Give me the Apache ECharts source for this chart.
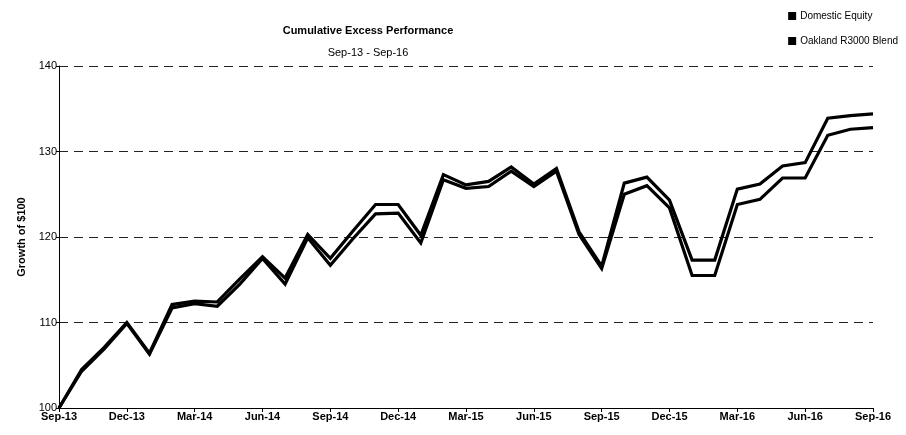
<!DOCTYPE html>
<html>
<head>
<meta charset="utf-8">
<script src="https://cdn.jsdelivr.net/npm/echarts@6/dist/echarts.min.js"></script>
<style>
  html, body { margin: 0; padding: 0; background: #fff; }
  #chart { width: 906px; height: 435px; }
</style>
</head>
<body>
<div id="chart"></div>
<script>
// Month-end observations, Sep-13 through Sep-16
const months = [
  'Sep-13','Oct-13','Nov-13','Dec-13','Jan-14','Feb-14','Mar-14','Apr-14','May-14','Jun-14',
  'Jul-14','Aug-14','Sep-14','Oct-14','Nov-14','Dec-14','Jan-15','Feb-15','Mar-15','Apr-15',
  'May-15','Jun-15','Jul-15','Aug-15','Sep-15','Oct-15','Nov-15','Dec-15','Jan-16','Feb-16',
  'Mar-16','Apr-16','May-16','Jun-16','Jul-16','Aug-16','Sep-16'
];

// Growth of $100
const domesticEquity = [
  100.0, 104.5, 107.1, 110.0, 106.4, 112.1, 112.5, 112.4, 115.1, 117.7,
  115.2, 120.3, 117.5, 120.7, 123.8, 123.8, 120.2, 127.3, 126.1, 126.5,
  128.2, 126.2, 128.0, 120.6, 116.6, 126.3, 127.0, 124.3, 117.3, 117.3,
  125.6, 126.2, 128.3, 128.7, 133.9, 134.2, 134.4
];
const oaklandR3000Blend = [
  100.0, 104.3, 106.9, 109.9, 106.3, 111.7, 112.2, 111.9, 114.5, 117.5,
  114.5, 119.9, 116.7, 119.8, 122.7, 122.8, 119.3, 126.7, 125.7, 125.9,
  127.7, 125.9, 127.7, 120.3, 116.3, 125.0, 126.0, 123.4, 115.5, 115.5,
  123.8, 124.4, 126.9, 126.9, 131.9, 132.6, 132.8
];

const yMin = 100, yMax = 140, yStep = 10;

const narrow = "'Liberation Sans Narrow', 'Arial Narrow', 'Liberation Sans', Arial, sans-serif";

const chart = echarts.init(document.getElementById('chart'), null, { renderer: 'canvas' });

chart.setOption({
  animation: false,
  backgroundColor: '#ffffff',
  title: [
    {
      text: 'Cumulative Excess Performance',
      left: 363, top: 20, textAlign: 'center',
      textStyle: { fontFamily: "'Liberation Sans', Arial, sans-serif", fontSize: 11, fontWeight: 'bold', color: '#000' }
    },
    {
      text: 'Sep-13 - Sep-16',
      left: 363, top: 42, textAlign: 'center',
      textStyle: { fontFamily: narrow, fontSize: 11, fontWeight: 'normal', color: '#000' }
    }
  ],
  legend: {
    orient: 'vertical',
    right: 3, top: 6,
    itemWidth: 8, itemHeight: 8, itemGap: 15,
    icon: 'rect',
    textStyle: { fontFamily: narrow, fontSize: 10, color: '#000', padding: [0, 0, 0, -1] },
    data: ['Domestic Equity', 'Oakland R3000 Blend']
  },
  grid: { left: 59, right: 33, top: 66, bottom: 27, containLabel: false },
  xAxis: {
    type: 'category',
    data: months,
    boundaryGap: false,
    axisLine: { lineStyle: { color: '#000', width: 1 } },
    axisTick: { show: true, interval: 2, length: 4, lineStyle: { color: '#000' } },
    axisLabel: {
      interval: 2, margin: 3,
      fontFamily: narrow, fontSize: 11, fontWeight: 'bold', color: '#000'
    },
    splitLine: { show: false }
  },
  yAxis: {
    type: 'value',
    min: yMin, max: yMax, interval: yStep,
    name: 'Growth of $100',
    nameLocation: 'middle',
    nameGap: 30,
    nameRotate: 90,
    nameTextStyle: { fontFamily: "'Liberation Sans', Arial, sans-serif", fontSize: 11, fontWeight: 'bold', color: '#000' },
    axisLine: { show: true, lineStyle: { color: '#000', width: 1 } },
    axisTick: { show: true, length: 3, lineStyle: { color: '#000' } },
    axisLabel: { margin: 2, fontFamily: narrow, fontSize: 11, color: '#000' },
    splitLine: {
      show: true,
      lineStyle: { color: '#222', width: 1, type: [9, 6] }
    }
  },
  series: [
    {
      name: 'Domestic Equity',
      type: 'line',
      data: domesticEquity,
      showSymbol: false,
      symbol: 'none',
      itemStyle: { color: '#000' },
      lineStyle: { color: '#000', width: 3.2, join: 'miter' },
      z: 3
    },
    {
      name: 'Oakland R3000 Blend',
      type: 'line',
      data: oaklandR3000Blend,
      showSymbol: false,
      symbol: 'none',
      itemStyle: { color: '#000' },
      lineStyle: { color: '#000', width: 3.2, join: 'miter' },
      z: 3
    }
  ]
});
</script>
</body>
</html>
